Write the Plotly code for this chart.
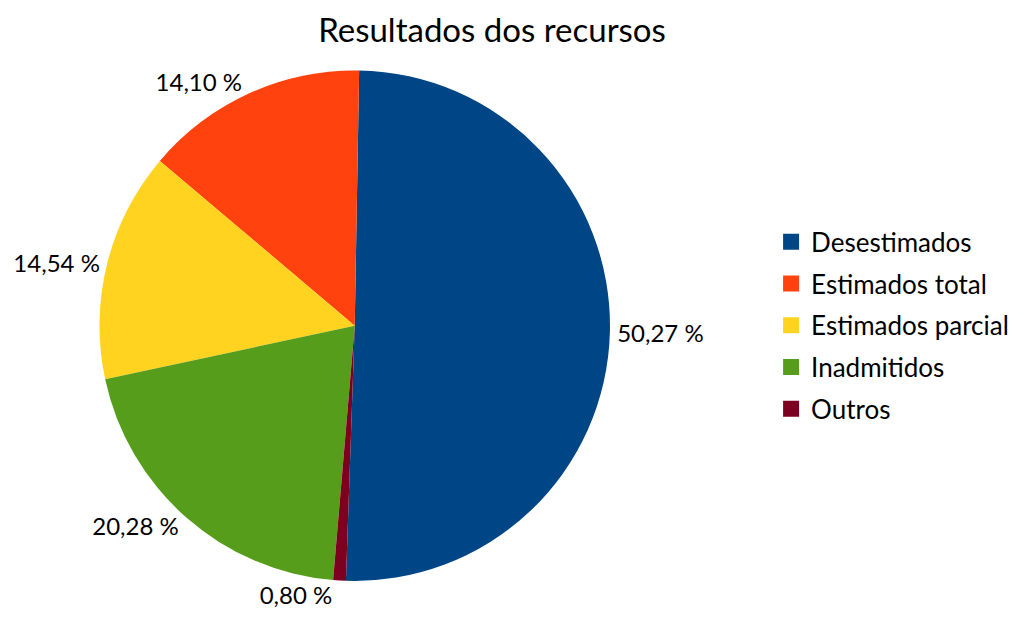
import plotly.graph_objects as go

categories = ["Desestimados", "Estimados total", "Estimados parcial", "Inadmitidos", "Outros"]
values = [50.27, 14.10, 14.54, 20.28, 0.80]
colors = ["#004586", "#ff420e", "#ffd320", "#579d1c", "#7e0021"]
title_text = "Resultados dos recursos"

labels_txt = [f"{v:.2f}".replace(".", ",") + " %" for v in values]
FONT = "Lato, Carlito, Calibri, sans-serif"

fig = go.Figure()
fig.add_trace(go.Pie(
    labels=categories, values=values, sort=False,
    direction="counterclockwise", rotation=values[0] / sum(values) * 360 - 180,
    marker=dict(colors=colors, line=dict(width=0)),
    text=labels_txt, textinfo="text", textposition="outside",
    textfont=dict(family=FONT, size=24, color="#000000"),
    showlegend=False, hoverinfo="label+percent",
    domain=dict(x=[0.008, 0.554], y=[0.029, 0.903]),
))
for c, col in zip(categories, colors):
    fig.add_trace(go.Scatter(
        x=[None], y=[None], mode="markers", name=c, legendgroup=c,
        marker=dict(symbol="square", size=16, color=col),
    ))

fig.update_layout(
    width=1019, height=617,
    margin=dict(l=0, r=0, t=0, b=0),
    paper_bgcolor="white", plot_bgcolor="white",
    title=dict(text=title_text, x=0.475, xanchor="center", y=0.964, yanchor="middle",
               font=dict(family=FONT, size=33, color="#000000")),
    xaxis=dict(visible=False), yaxis=dict(visible=False),
    legend=dict(x=0.7263, xanchor="left", y=0.466, yanchor="middle",
                font=dict(family=FONT, size=26, color="#000000"),
                tracegroupgap=5, itemsizing="trace"),
)
fig.write_html("out.html")
